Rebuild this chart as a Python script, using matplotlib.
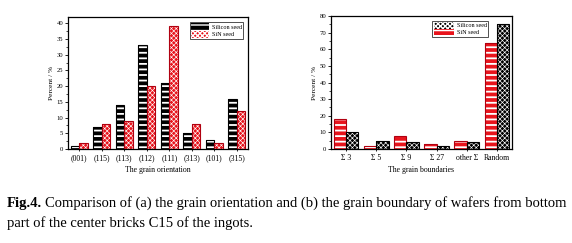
import matplotlib
matplotlib.use("Agg")
import matplotlib.pyplot as plt
import numpy as np

plt.rcParams['font.family'] = ['Liberation Serif', 'DejaVu Serif']

# (a) grain orientation
orient_labels = ["(001)", "(115)", "(113)", "(112)", "(111)", "(313)", "(101)", "(315)"]
orient_silicon = [1, 7, 14, 33, 21, 5, 3, 16]
orient_sin = [2, 8, 9, 20, 39, 8, 2, 12]

# (b) grain boundaries
gb_labels = ["\u03a3 3", "\u03a3 5", "\u03a3 9", "\u03a3 27", "other \u03a3", "Random"]
gb_sin = [18, 2, 8, 3, 5, 64]
gb_silicon = [10, 5, 4, 2, 4, 75]

RED = "#e8141c"
fig = plt.figure(figsize=(5.72, 2.43), dpi=100)


def hbar(ax, x, h, w, color, hatch, label=None):
    hlw = 1.3 if "-" in hatch else 0.45
    with plt.rc_context({"hatch.linewidth": hlw}):
        ax.bar(x, h, w, color=color, edgecolor="white", hatch=hatch, linewidth=0, zorder=2)
        ax.bar(x, h, w, facecolor="none", edgecolor="black" if color == "black" else "#b00010",
               linewidth=0.8, zorder=3)
        proxy = ax.bar([np.nan], [np.nan], color=color, edgecolor="white", hatch=hatch,
                       linewidth=0, label=label)
    return proxy


def style(ax, ymax, major, minor, xlabels, xlabel):
    ax.set_ylim(0, ymax)
    ax.set_xlim(-0.5, len(xlabels) - 0.5)
    ax.set_xticks(range(len(xlabels)))
    ax.set_xticklabels(xlabels, fontsize=5.6)
    ax.set_yticks(np.arange(0, ymax + 0.1, major))
    ax.set_yticks(np.arange(0, ymax + 0.1, minor), minor=True)
    ax.tick_params(axis="y", labelsize=4.8, length=2, width=0.6, pad=1.5)
    ax.tick_params(axis="y", which="minor", length=1.2, width=0.5)
    ax.tick_params(axis="x", length=1.5, width=0.6, pad=2)
    ax.set_ylabel("Percent / %", fontsize=5.3, labelpad=2)
    ax.set_xlabel(xlabel, fontsize=5.6, labelpad=3)
    for s in ax.spines.values():
        s.set_linewidth(0.9)


ax1 = fig.add_axes([68 / 572, 1 - 149 / 243, 180 / 572, 132 / 243])
x = np.arange(len(orient_labels))
w = 0.37
h1 = hbar(ax1, x - w / 2, orient_silicon, w, "black", "---", "Silicon seed")
h2 = hbar(ax1, x + w / 2, orient_sin, w, RED, "xxxxxxx", "SiN seed")
style(ax1, 42, 5, 2.5, orient_labels, "The grain orientation")
ax1.legend(handles=[h1, h2], loc="upper right", fontsize=4.4, frameon=True,
           fancybox=False, edgecolor="black", handlelength=3.0, handleheight=1.4,
           borderpad=0.2, labelspacing=0.1, handletextpad=0.4,
           bbox_to_anchor=(0.99, 0.985)).get_frame().set_linewidth(0.6)

ax2 = fig.add_axes([331 / 572, 1 - 149 / 243, 181 / 572, 133 / 243])
x = np.arange(len(gb_labels))
w = 0.41
g2 = hbar(ax2, x - w / 2, gb_sin, w, RED, "---", "SiN seed")
g1 = hbar(ax2, x + w / 2, gb_silicon, w, "black", "xxxxxxx", "Silicon seed")
style(ax2, 80, 10, 5, gb_labels, "The grain boundaries")
ax2.legend(handles=[g1, g2], loc="upper right", fontsize=4.4, frameon=True,
           fancybox=False, edgecolor="black", handlelength=3.4, handleheight=1.2,
           borderpad=0.2, labelspacing=0.1, handletextpad=0.4,
           bbox_to_anchor=(0.885, 0.985)).get_frame().set_linewidth(0.6)

FS = 10.5
t1 = fig.text(7 / 572, 1 - 207 / 243, "Fig.4.", fontsize=FS, fontweight="bold",
              va="baseline", ha="left")
fig.canvas.draw()
bb = t1.get_window_extent()
fig.text(bb.x1 / fig.bbox.width + 2.5 / 572, 1 - 207 / 243,
         "Comparison of (a) the grain orientation and (b) the grain boundary of wafers from bottom",
         fontsize=FS, va="baseline", ha="left")
fig.text(7 / 572, 1 - 227 / 243,
         "part of the center bricks C15 of the ingots.",
         fontsize=FS, va="baseline", ha="left")

fig.savefig("out.png", dpi=100)
